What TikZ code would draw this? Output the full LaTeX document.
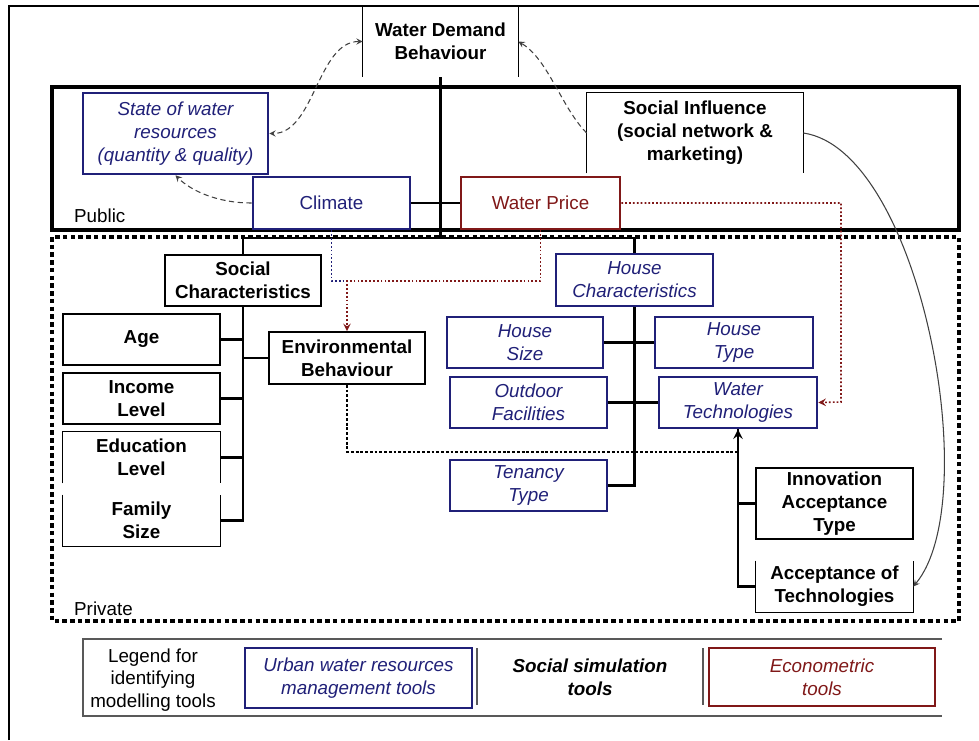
\documentclass[tikz,border=0pt]{standalone}
\usepackage{fontspec}
\setmainfont{Liberation Sans}
\definecolor{waterblue}{RGB}{32,32,120}
\definecolor{econred}{RGB}{128,24,24}
\newcommand{\dfont}{\fontsize{10.7}{13}\selectfont}
\tikzset{
  box/.style={draw, fill=white, align=center, inner sep=1pt},
  blackbox/.style={box, line width=0.9pt, font=\dfont\bfseries},
  bluebox/.style={box, draw=waterblue, text=waterblue, line width=1.5pt, font=\dfont\itshape},
  redbox/.style={box, draw=econred, text=econred, line width=1.5pt},
  openbox/.style={align=center, inner sep=1pt, font=\dfont\bfseries},
  boxline/.style={line width=0.9pt},
  thinline/.style={line width=0.6pt},
  tree/.style={line width=1.5pt},
  privline/.style={line width=2pt, dash pattern=on 2.6pt off 1.8pt},
  bluedot/.style={waterblue, line width=0.9pt, dash pattern=on 1pt off 1.2pt},
  reddot/.style={econred, line width=0.9pt, dash pattern=on 1pt off 1.2pt},
  blackdot/.style={line width=1.4pt, dash pattern=on 1.6pt off 1.1pt},
  curvy/.style={black!75, line width=0.6pt, densely dashed},
  legline/.style={black!65, line width=0.8pt}
}
\begin{document}
\begin{tikzpicture}[x=0.02cm, y=-0.02cm, >=stealth, every node/.style={font=\dfont}]
\useasboundingbox (0,0) rectangle (979,740);
% frame and areas
\draw[line width=1.1pt] (9,740) -- (9,6) -- (979,6);
\draw[line width=2.2pt] (52,87) rectangle (959,230);
\draw[privline] (52,237) rectangle (959,621);
\node[anchor=west] (public) at (68,216) {Public};
\node[anchor=west] (private) at (68,609) {Private};

% public level
\node[openbox, minimum width=3.1cm, minimum height=1.42cm] (wdb) at (440.5,41.5) {Water Demand\\Behaviour};
\draw[thinline] (wdb.north west) -- (wdb.south west) (wdb.north east) -- (wdb.south east);
\node[bluebox, minimum width=3.7cm, minimum height=1.62cm] (state) at (175.5,133.5) {State of water\\resources\\(quantity \& quality)};
\node[openbox, minimum width=4.32cm, minimum height=1.6cm] (socinf) at (695,133) {Social Influence\\(social network \&\\marketing)};
\draw[thinline] (socinf.south west) |- (socinf.north east) -- (socinf.south east);
\node[bluebox, font=\dfont, minimum width=3.14cm, minimum height=1.04cm] (climate) at (331.5,203) {Climate};
\node[redbox, minimum width=3.18cm, minimum height=1.04cm] (price) at (540.5,203) {Water Price};

% private level, social side
\node[blackbox, minimum width=3.12cm, minimum height=1.02cm] (socchar) at (243,280.5) {Social\\Characteristics};
\node[blackbox, minimum width=3.14cm, minimum height=1.02cm] (age) at (141.5,339.5) {Age};
\node[blackbox, minimum width=3.14cm, minimum height=1.02cm] (income) at (141.5,398.5) {Income\\Level};
\node[openbox, minimum width=3.14cm, minimum height=1.02cm] (education) at (141.5,457.5) {Education\\Level};
\draw[boxline] (education.south west) |- (education.north east) -- (education.south east);
\node[openbox, minimum width=3.14cm, minimum height=1.02cm] (family) at (141.5,520.5) {Family\\Size};
\draw[boxline] (family.north west) |- (family.south east) -- (family.north east);
\node[blackbox, minimum width=3.12cm, minimum height=1.04cm] (envbeh) at (347,358) {Environmental\\Behaviour};

% private level, house side
\node[bluebox, minimum width=3.14cm, minimum height=1.04cm] (housechar) at (634.5,280) {House\\Characteristics};
\node[bluebox, minimum width=3.12cm, minimum height=1.02cm] (hsize) at (525,342.5) {House\\Size};
\node[bluebox, minimum width=3.16cm, minimum height=1.02cm] (htype) at (734,342.5) {House\\Type};
\node[bluebox, minimum width=3.14cm, minimum height=1.02cm] (outdoor) at (528.5,402.5) {Outdoor\\Facilities};
\node[bluebox, minimum width=3.16cm, minimum height=1.02cm] (watertech) at (738,402.5) {Water\\Technologies};
\node[bluebox, minimum width=3.14cm, minimum height=1.02cm] (tenancy) at (528.5,485.5) {Tenancy\\Type};
\node[blackbox, minimum width=3.14cm, minimum height=1.42cm] (innov) at (834.5,503.5) {Innovation\\Acceptance\\Type};
\node[openbox, minimum width=3.14cm, minimum height=1.02cm] (accept) at (834.5,586.5) {Acceptance of\\Technologies};
\draw[boxline] (accept.north west) |- (accept.south east) -- (accept.north east);

\coordinate (hub) at (440.5,238);
\coordinate (envjoin) at (347,281);
\coordinate (techjoin) at (738,452);
\coordinate (pricebend) at (841,402);

% tree
\draw[tree] (wdb.south) -- (hub);
\draw[tree] (socchar.north) |- (hub) -| (housechar.north);
\draw[tree] (climate) -- (price);
\draw[tree] (socchar.south) |- (family.east);
\foreach \n/\s in {age/east,income/east,education/east,envbeh/west}
  \draw[tree] (\n.\s) -- (\n.\s -| socchar.south);
\draw[tree] (housechar.south) |- (tenancy.east);
\draw[tree] (hsize) -- (htype);
\draw[tree] (outdoor) -- (watertech);
\draw[tree] (accept.west) -| (watertech.south);
\draw[tree] (innov.west) -- (innov.west -| watertech.south);

% dotted links
\draw[bluedot] (climate.south) |- (envjoin);
\draw[reddot,->] (price.south) |- (envjoin) -- (envbeh.north);
\draw[reddot,->] (price.east) -| (pricebend) -- (watertech.east);
\draw[blackdot,->] (envbeh.south) |- (techjoin) -- (watertech.south);

% curved links
\draw[curvy,<->] (wdb.west) .. controls +(-45,0) and +(45,0) .. (state.east);
\draw[curvy,->] (climate.west) .. controls +(-35,0) and +(15,15) .. (state.south);
\draw[curvy,->] (socinf.west) .. controls +(-25,-25) and +(30,18) .. (wdb.east);
\draw[black!75, line width=0.6pt, ->] (socinf.east) .. controls +(117,17) and +(72,-87) .. (accept.east);

% legend
\draw[legline] (942,639) -| (83,716) -- (942,716);
\node[align=center] (legtitle) at (153,680) {Legend for\\identifying\\modelling tools};
\node[bluebox, minimum width=4.54cm, minimum height=1.2cm] (legurban) at (358.5,678) {Urban water resources\\management tools};
\node[align=center, font=\dfont\bfseries\itshape] (legsocial) at (590,677) {Social simulation\\tools};
\node[redbox, font=\dfont\itshape, minimum width=4.52cm, minimum height=1.16cm] (legecon) at (822,677) {Econometric\\tools};
\draw[legline] (477,648) -- (477,705) (703,648) -- (703,705);
\end{tikzpicture}
\end{document}
